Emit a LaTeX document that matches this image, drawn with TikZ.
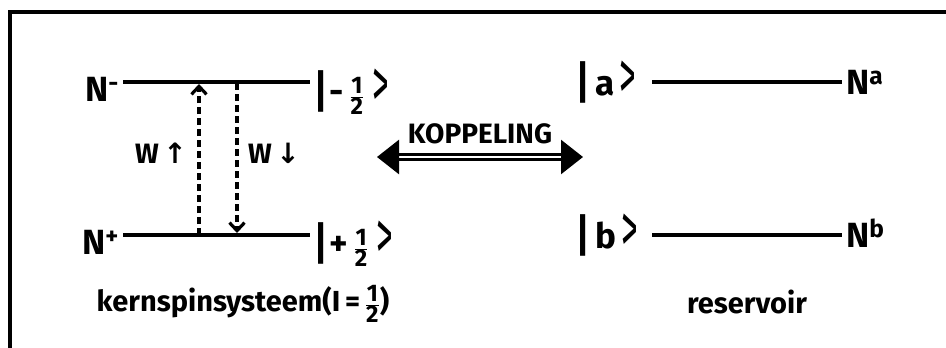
\documentclass[tikz,border=0pt]{standalone}
\usepackage{fontspec}
\setmainfont{Fira Sans}
\newfontfamily\arrowfont{DejaVu Sans}
\usetikzlibrary{arrows.meta}
\newcommand{\halfx}{\ensuremath{\frac{\mbox{\fontsize{24}{24}\selectfont\bfseries 1}}{\mbox{\fontsize{24}{24}\selectfont\bfseries 2}}}}
\newcommand{\ketclose}{\raisebox{-0.12em}{\scalebox{0.95}[2.0]{\mdseries >}}}
\newcommand{\ketbar}{\raisebox{-0.1em}{\scalebox{1}[1.3]{|}}}
\tikzset{
  lbl/.style={font=\bfseries\fontsize{35}{37}\selectfont, inner sep=0pt},
  midlbl/.style={font=\bfseries\fontsize{28}{30}\selectfont, inner sep=0pt},
  caption/.style={font=\bfseries\fontsize{29}{31}\selectfont, inner sep=0pt},
  levelline/.style={line width=4pt},
  trans/.style={line width=3.4pt, dash pattern=on 7pt off 4pt, -{Straight Barb[length=8pt,width=15pt,line width=3.2pt]}},
  frame/.style={line width=4.2pt},
}
\begin{document}
\begin{tikzpicture}[x=1pt,y=-1pt]
\useasboundingbox (0,0) rectangle (946,348);
% frame (top and left edges visible)
\coordinate (fr1) at (946,12);
\coordinate (fr2) at (10,12);
\coordinate (fr3) at (10,348);
\draw[frame] (fr1) -- (fr2) -- (fr3);
% left system
\node[lbl, anchor=base east] (Nm) at (119,101) {N\textsuperscript{-}};
\node[lbl, anchor=base east] (Np) at (119,254) {N\textsuperscript{+}};
\coordinate (tl) at (123,82);
\coordinate (tr) at (310,82);
\coordinate (bl) at (123,235);
\coordinate (br) at (310,235);
\draw[levelline] (tl) -- (tr);
\draw[levelline] (bl) -- (br);
\node[lbl, anchor=west] (km) at (314,92) {\ketbar\hspace{2pt}-\,\halfx\hspace{8pt}\ketclose};
\node[lbl, anchor=west] (kp) at (314,244) {\ketbar\hspace{2pt}+\,\halfx\hspace{8pt}\ketclose};
\coordinate (upb) at (199,235);
\coordinate (upt) at (199,84);
\coordinate (dnt) at (237,83);
\coordinate (dnb) at (237,233);
\draw[trans] (upb) -- (upt);
\draw[trans] (dnt) -- (dnb);
\node[midlbl, anchor=center] (wup) at (161,153) {W\,{\arrowfont ↑}};
\node[midlbl, anchor=center] (wdn) at (274,153) {W\,{\arrowfont ↓}};
\node[caption, anchor=center] (cap1) at (243,304) {kernspinsysteem(I\,=\,\halfx)};
% coupling arrow
\coordinate (kl) at (377,157);
\coordinate (kr) at (583,157);
\draw[line width=2.6pt, double distance=2.5pt, {Triangle[length=22pt,width=34pt]}-{Triangle[length=22pt,width=34pt]}] (kl) -- (kr);
\node[midlbl, anchor=center] (kop) at (480,134) {KOPPELING};
% reservoir
\node[lbl, anchor=west] (ka) at (576,82) {\ketbar\hspace{6pt}a\hspace{5pt}\ketclose};
\node[lbl, anchor=west] (kb) at (576,235) {\ketbar\hspace{6pt}b\hspace{5pt}\ketclose};
\coordinate (al) at (652,82);
\coordinate (ar) at (842,82);
\coordinate (bbl) at (652,235);
\coordinate (bbr) at (842,235);
\draw[levelline] (al) -- (ar);
\draw[levelline] (bbl) -- (bbr);
\node[lbl, anchor=base west] (Na) at (846,94) {N\textsuperscript{a}};
\node[lbl, anchor=base west] (Nb) at (846,247) {N\textsuperscript{b}};
\node[caption, anchor=center] (cap2) at (747,302) {reservoir};
\end{tikzpicture}
\end{document}
